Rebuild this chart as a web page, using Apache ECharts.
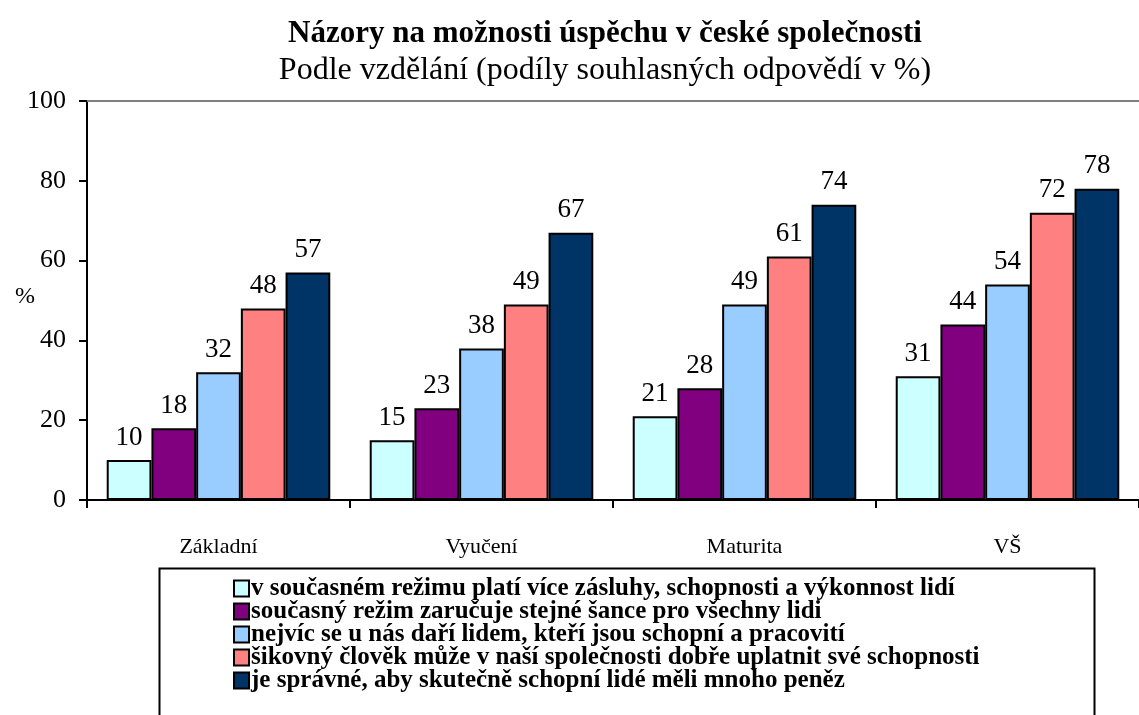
<!DOCTYPE html>
<html lang="cs">
<head>
    <meta charset="utf-8">
    <title>Názory na možnosti úspěchu</title>
    <script src="https://cdn.jsdelivr.net/npm/echarts@6/dist/echarts.min.js"></script>
    <style>
        html, body { height: 100%; margin: 0; background: #fff; }
    </style>
</head>
<body>
    <div id="main" style="width:1139px;height:715px;"></div>
    <script>
        // kategorie vzdělání
        var categories = ['Základní', 'Vyučení', 'Maturita', 'VŠ'];
        var seriesNames = [
            'v současném režimu platí více zásluhy, schopnosti a výkonnost lidí',
            'současný režim zaručuje stejné šance pro všechny lidi',
            'nejvíc se u nás daří lidem, kteří jsou schopní a pracovití',
            'šikovný člověk může v naší společnosti dobře uplatnit své schopnosti',
            'je správné, aby skutečně schopní lidé měli mnoho peněz'
        ];
        var zasluhy = [10, 15, 21, 31];
        var sance = [18, 23, 28, 44];
        var dari = [32, 38, 49, 54];
        var sikovny = [48, 49, 61, 72];
        var penize = [57, 67, 74, 78];
        var colors = ['#CCFFFF', '#800080', '#99CCFF', '#FF8080', '#003366'];
        var yTicks = [0, 20, 40, 60, 80, 100];

        var font = '"Liberation Serif", "Times New Roman", serif';
        var myChart = echarts.init(document.getElementById('main'));

        var allValues = [zasluhy, sance, dari, sikovny, penize];
        var series = [];
        for (var i = 0; i < allValues.length; i++) {
            series.push({
                name: seriesNames[i],
                type: 'bar',
                data: allValues[i],
                barGap: 0,
                barCategoryGap: '15%',
                itemStyle: { color: colors[i], borderColor: '#000', borderWidth: 2 },
                label: {
                    show: true,
                    position: 'top',
                    distance: 9,
                    color: '#000',
                    fontFamily: font,
                    fontSize: 27
                }
            });
        }

        var option = {
            animation: false,
            title: [
                {
                    text: 'Názory na možnosti úspěchu v české společnosti',
                    left: 600, top: 13, textAlign: 'center',
                    textStyle: { fontFamily: font, fontWeight: 'bold', fontSize: 31, color: '#000' }
                },
                {
                    text: 'Podle vzdělání (podíly souhlasných odpovědí v %)',
                    left: 600, top: 50, textAlign: 'center',
                    textStyle: { fontFamily: font, fontWeight: 'normal', fontSize: 32, color: '#000' }
                },
                {
                    text: '%',
                    left: 10, top: 280,
                    textStyle: { fontFamily: font, fontWeight: 'normal', fontSize: 24, color: '#000' }
                }
            ],
            legend: {
                orient: 'vertical',
                left: 228, top: 571,
                height: 160,
                itemWidth: 15, itemHeight: 16, itemGap: -2,
                icon: 'rect',
                itemStyle: { borderColor: '#000', borderWidth: 2 },
                textStyle: {
                    fontFamily: font, fontWeight: 'bold', fontSize: 25,
                    color: '#000', padding: [0, 0, 0, -3]
                },
                data: seriesNames
            },
            graphic: [
                {
                    type: 'rect',
                    left: 157, top: 566,
                    shape: { width: 935, height: 170 },
                    style: { fill: 'none', stroke: '#000', lineWidth: 2 },
                    z: -1
                }
            ],
            grid: { left: 87, top: 101, width: 1064, height: 399 },
            xAxis: [
                {
                    type: 'category',
                    data: categories,
                    axisLine: { lineStyle: { color: '#000', width: 2 } },
                    axisTick: { show: true, length: 8, lineStyle: { color: '#000', width: 2 } },
                    axisLabel: { fontFamily: font, fontSize: 22, color: '#000', margin: 36 }
                },
                {
                    type: 'category',
                    position: 'top',
                    data: categories,
                    axisLine: { lineStyle: { color: '#808080', width: 2 } },
                    axisTick: { show: false },
                    axisLabel: { show: false }
                }
            ],
            yAxis: {
                type: 'value',
                min: 0, max: 100, interval: 20,
                axisLine: { show: true, lineStyle: { color: '#000', width: 2 } },
                axisTick: { show: true, length: 8, lineStyle: { color: '#000', width: 2 } },
                splitLine: { show: false },
                axisLabel: {
                    fontFamily: font, fontSize: 26, color: '#000', margin: 21,
                    formatter: function (v) { return yTicks.indexOf(v) >= 0 ? String(v) : ''; }
                }
            },
            series: series
        };
        myChart.setOption(option);
    </script>
</body>
</html>
